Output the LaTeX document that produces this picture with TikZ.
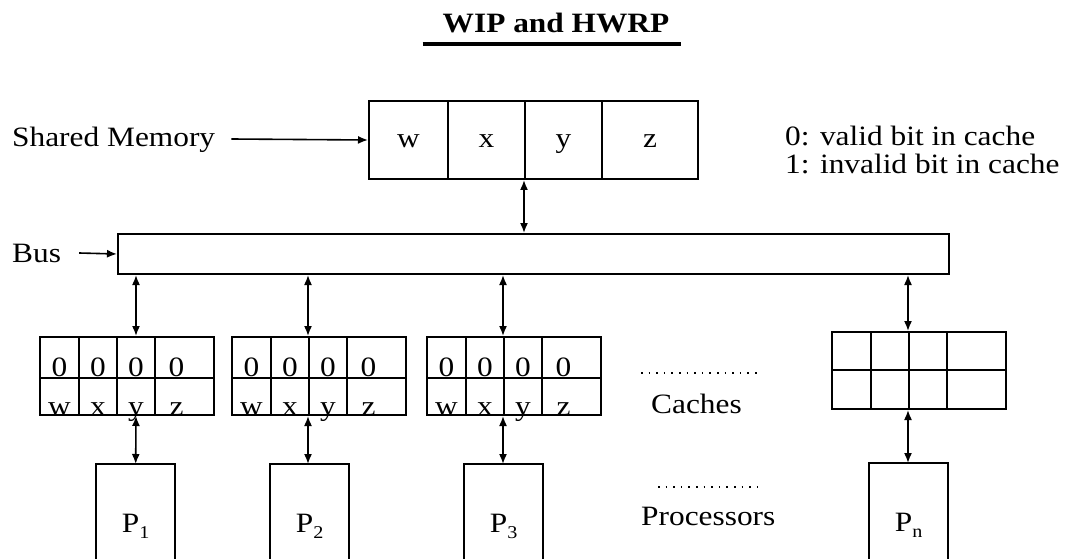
\documentclass[tikz,border=0pt]{standalone}
\usepackage{fontspec}
\setmainfont{Liberation Serif}
\usetikzlibrary{arrows.meta,calc}
\newcommand\wt[1]{\scalebox{1.12}[1]{#1}}
\newcommand\sbs[1]{\raisebox{-6pt}{\fontsize{18}{20}\selectfont #1}}
\tikzset{
  txt/.style={inner sep=0pt, font=\fontsize{28}{32}\selectfont},
  box/.style={draw, line width=2pt, inner sep=0pt, anchor=north west},
  conn/.style={line width=1.6pt, {Latex[length=10pt,width=8pt]}-{Latex[length=10pt,width=8pt]}},
  one/.style={line width=1.6pt, -{Latex[length=10pt,width=8pt]}},
  dots/.style={line width=1.6pt, dash pattern=on 1.6pt off 6pt},
}
\begin{document}
\begin{tikzpicture}[x=1pt,y=-1pt]
\useasboundingbox (0,0) rectangle (1069,559);
\clip (0,0) rectangle (1069,559);
% title
\node[txt, font=\fontsize{28}{32}\selectfont\bfseries, anchor=base] (title) at (556,33) {\wt{WIP and HWRP}};
\draw[line width=3.5pt] ([xshift=-20pt,yshift=-11pt]title.base west) -- ([xshift=12pt,yshift=-11pt]title.base east);
% shared memory
\node[box, minimum width=79pt, minimum height=78pt] (mw) at (368,100) {};
\node[box, minimum width=77pt, minimum height=78pt] (mx) at (447,100) {};
\node[box, minimum width=77pt, minimum height=78pt] (my) at (524,100) {};
\node[box, minimum width=96pt, minimum height=78pt] (mz) at (601,100) {};
\node[txt, anchor=base] at ([yshift=-8pt]mw.center) {\wt{w}};
\node[txt, anchor=base] at ([yshift=-8pt]mx.center) {\wt{x}};
\node[txt, anchor=base] at ([yshift=-8pt]my.center) {\wt{y}};
\node[txt, anchor=base] at ([yshift=-8pt]mz.center) {\wt{z}};
\node[txt, anchor=base west] (smlab) at (12,147) {\wt{Shared Memory}};
\draw[one] ([xshift=16pt,yshift=8pt]smlab.base east) -- (mw.west);
% legend
\node[txt, anchor=base west] (leg1) at (785,146) {\wt{0: valid bit in cache}};
\node[txt, anchor=base west] (leg2) at (785,174) {\wt{1: invalid bit in cache}};
% bus
\node[box, minimum width=831pt, minimum height=40pt] (bus) at (117,233) {};
\node[txt, anchor=base west] (buslab) at (12,262) {\wt{Bus}};
\draw[one] ([xshift=18pt,yshift=9pt]buslab.base east) -- (bus.west);
\draw[conn] (my.south west) -- (bus.north -| my.south west);
% caches
\foreach \n/\x/\top/\mid/\bot in {a/39/336/377/414, b/231/336/377/414, c/426/336/377/414, d/831/331/369/408}{
  \node[box, minimum width=39pt, minimum height={\mid-\top}] (\n00) at (\x,\top) {};
  \node[box, minimum width=38pt, minimum height={\mid-\top}] (\n01) at (\x+39,\top) {};
  \node[box, minimum width=38pt, minimum height={\mid-\top}] (\n02) at (\x+77,\top) {};
  \node[box, minimum width=59pt, minimum height={\mid-\top}] (\n03) at (\x+115,\top) {};
  \node[box, minimum width=39pt, minimum height={\bot-\mid}] (\n10) at (\x,\mid) {};
  \node[box, minimum width=38pt, minimum height={\bot-\mid}] (\n11) at (\x+39,\mid) {};
  \node[box, minimum width=38pt, minimum height={\bot-\mid}] (\n12) at (\x+77,\mid) {};
  \node[box, minimum width=59pt, minimum height={\bot-\mid}] (\n13) at (\x+115,\mid) {};
}
\foreach \n in {a,b,c}{
  \node[txt, anchor=base] at ([yshift=3pt]\n00.south) {\wt{0}};
  \node[txt, anchor=base] at ([yshift=3pt]\n01.south) {\wt{0}};
  \node[txt, anchor=base] at ([yshift=3pt]\n02.south) {\wt{0}};
  \node[txt, anchor=base] at ([xshift=-8pt,yshift=3pt]\n03.south) {\wt{0}};
  \node[txt, anchor=base] at ([yshift=1pt]\n10.south) {\wt{w}};
  \node[txt, anchor=base] at ([yshift=1pt]\n11.south) {\wt{x}};
  \node[txt, anchor=base] at ([yshift=1pt]\n12.south) {\wt{y}};
  \node[txt, anchor=base] at ([xshift=-8pt,yshift=1pt]\n13.south) {\wt{z}};
}
% bus to caches
\draw[conn] (bus.south -| a02.north) -- (a02.north);
\draw[conn] (bus.south -| b02.north west) -- (b02.north west);
\draw[conn] (bus.south -| c02.north west) -- (c02.north west);
\draw[conn] (bus.south -| d02.north west) -- (d02.north west);
% processors
\foreach \n/\x/\top/\lab in {p1/96/464/1, p2/270/464/2, p3/464/464/3, pn/869/463/n}{
  \node[inner sep=0pt, minimum width=79pt, minimum height={565-\top}, anchor=north west] (\n) at (\x,\top) {};
  \draw[line width=2pt] (\n.south west) |- (\n.north east) -- (\n.south east);
  \node[txt, anchor=base] at ($(\n.north)+(0,68)$) {\wt{P\sbs{\lab}}};
}
\draw[conn] (a12.south) -- (p1.north);
\draw[conn] (b12.south west) -- (p2.north -| b12.south west);
\draw[conn] (c12.south west) -- (p3.north -| c12.south west);
\draw[conn] (d12.south west) -- (pn.north -| d12.south west);
% labels
\node[txt, anchor=base west] (cachelab) at (651,413) {\wt{Caches}};
\node[txt, anchor=base west] (proclab) at (641,525) {\wt{Processors}};
\coordinate (cd1) at (641,373);
\coordinate (cd2) at (758,373);
\coordinate (pd1) at (658,487);
\coordinate (pd2) at (758,487);
\draw[dots] (cd1) -- (cd2);
\draw[dots] (pd1) -- (pd2);
\end{tikzpicture}
\end{document}
